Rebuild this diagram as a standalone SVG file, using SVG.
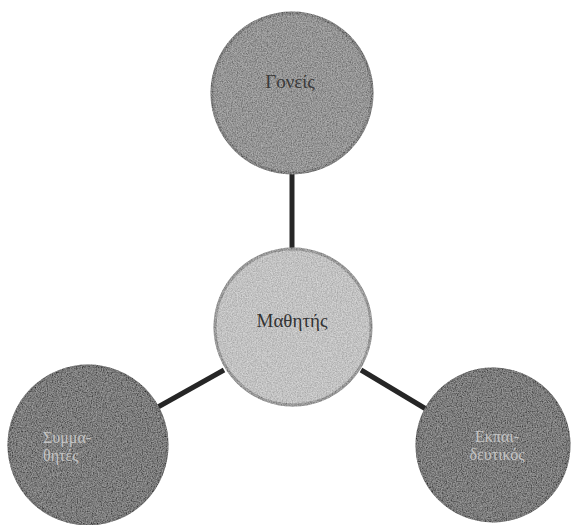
<svg xmlns="http://www.w3.org/2000/svg" width="571" height="525" viewBox="0 0 571 525">
  <defs>
    <filter id="grain" x="-5%" y="-5%" width="110%" height="110%">
      <feTurbulence type="fractalNoise" baseFrequency="0.8" numOctaves="2" seed="3" result="n"/>
      <feColorMatrix in="n" type="matrix" values="1.6 0 0 0 -0.3  1.6 0 0 0 -0.3  1.6 0 0 0 -0.3  0 0 0 0 0.3" result="g"/>
      <feComposite in="g" in2="SourceGraphic" operator="in" result="gc"/>
      <feMerge><feMergeNode in="SourceGraphic"/><feMergeNode in="gc"/></feMerge>
    </filter>
  </defs>
  <style>
    .conn { stroke: #262626; stroke-width: 5; fill: none; }
    .mid { fill: #808080; stroke: #5a5a5a; stroke-width: 3; }
    .light { fill: #c4c4c4; stroke: #858585; stroke-width: 3; }
    .dark { fill: #4e4e4e; stroke: #363636; stroke-width: 3; }
    .t { font-family: "Liberation Serif", "DejaVu Serif", serif; font-size: 19px; text-anchor: middle; }
    .tl { font-family: "Liberation Serif", "DejaVu Serif", serif; font-size: 16px; fill: #c4c4c4; }
  </style>
  <rect width="571" height="525" fill="#ffffff"/>
  <g id="connectors">
    <line class="conn" x1="292" y1="174" x2="292" y2="250"/>
    <line class="conn" x1="158" y1="407" x2="224" y2="370"/>
    <line class="conn" x1="361" y1="370" x2="426" y2="409"/>
  </g>
  <g id="node-goneis">
    <circle class="mid" cx="292" cy="93" r="80" filter="url(#grain)"/>
    <text class="t" x="290" y="88" fill="#3a3a3a">Γονείς</text>
  </g>
  <g id="node-mathitis">
    <circle class="light" cx="293" cy="327" r="78" filter="url(#grain)"/>
    <text class="t" x="292" y="327" fill="#333333">Μαθητής</text>
  </g>
  <g id="node-symmathites">
    <circle class="dark" cx="88" cy="445" r="79" filter="url(#grain)"/>
    <text class="tl" x="43" y="443">Συμμα-</text>
    <text class="tl" x="43" y="461">θητές</text>
  </g>
  <g id="node-ekpaideutikos">
    <circle class="dark" cx="493" cy="445" r="76" filter="url(#grain)"/>
    <text class="tl" x="497" y="442" text-anchor="middle">Εκπαι-</text>
    <text class="tl" x="497" y="460" text-anchor="middle">δευτικός</text>
  </g>
</svg>
